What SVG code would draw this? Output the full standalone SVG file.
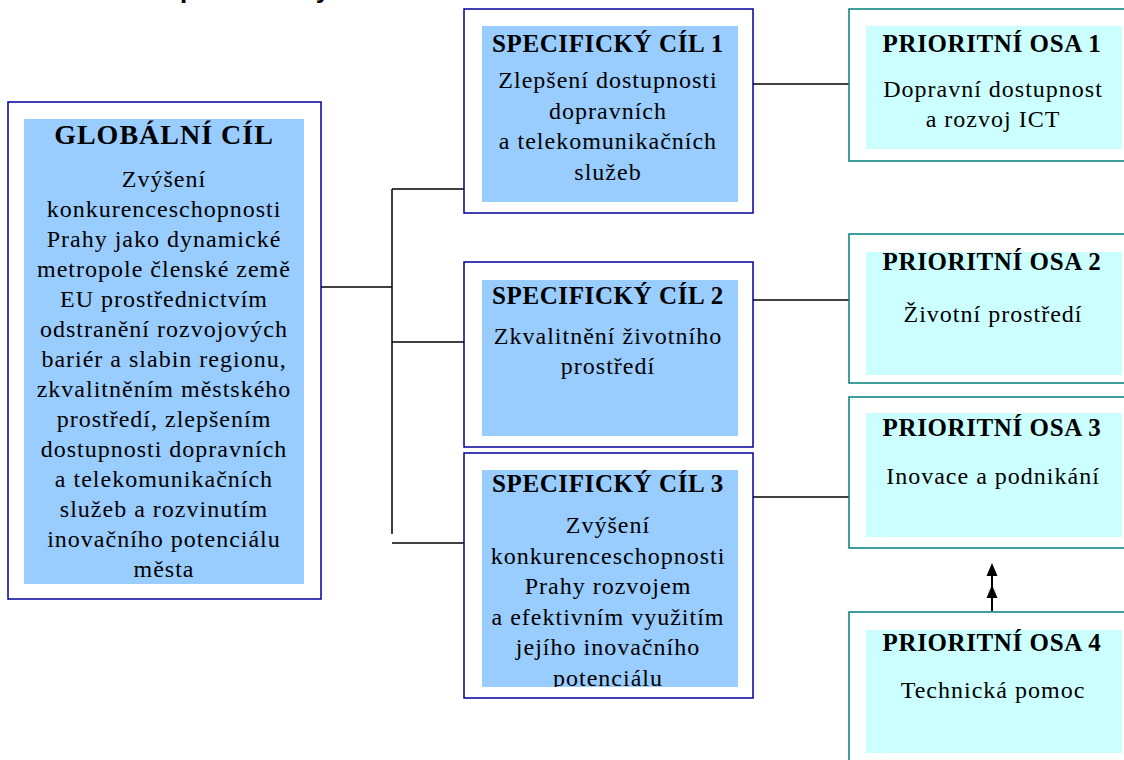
<svg xmlns="http://www.w3.org/2000/svg" width="1124" height="760" viewBox="0 0 1124 760">
<style>
.sbox{fill:#fff;stroke:#000099;stroke-width:1.5}
.sfill{fill:#99ccff}
.obox{fill:#fff;stroke:#008080;stroke-width:1.5}
.ofill{fill:#ccffff}
.t{font-family:"Liberation Serif","Times New Roman",serif;fill:#000;text-anchor:middle}
.h{font-weight:bold;font-size:25px;letter-spacing:0.6px}
.gh{font-weight:bold;font-size:28px;letter-spacing:1px}
.b{font-size:24px;letter-spacing:1px}
.conn{stroke:#000;stroke-width:1.5;fill:none}
.arr{stroke:#000;stroke-width:2;fill:none}
.head{fill:#000}
.top{font-family:"Liberation Sans",Arial,sans-serif;font-weight:bold;font-size:26px;fill:#000}
</style>
<defs>
<clipPath id="c3"><rect x="482" y="470" width="256" height="217"/></clipPath>
</defs>
<rect width="1124" height="760" fill="#fff"/>
<text id="heading" class="top" x="180" y="-2">prioritní osy</text>

<g id="connectors">
<line class="conn" x1="321" y1="287" x2="392" y2="287"/>
<line class="conn" x1="392" y1="189" x2="392" y2="534"/>
<line class="conn" x1="392" y1="189" x2="464" y2="189"/>
<line class="conn" x1="392" y1="342" x2="464" y2="342"/>
<line class="conn" x1="392" y1="543" x2="464" y2="543"/>
<line class="conn" x1="753" y1="84" x2="849" y2="84"/>
<line class="conn" x1="753" y1="300" x2="849" y2="300"/>
<line class="conn" x1="753" y1="497" x2="849" y2="497"/>
<line class="arr" x1="992" y1="611" x2="992" y2="574"/>
<polygon class="head" points="992,563 986.5,576 997.5,576"/>
<polygon class="head" points="992,585 986.5,598 997.5,598"/>
</g>

<g id="global">
<rect class="sbox" x="8" y="102" width="313" height="497"/>
<rect class="sfill" x="24" y="119" width="280" height="465"/>
<text class="t gh" x="164" y="144">GLOBÁLNÍ CÍL</text>
<text class="t b" x="164" y="186.5">Zvýšení</text>
<text class="t b" x="164" y="216.5">konkurenceschopnosti</text>
<text class="t b" x="164" y="246.5">Prahy jako dynamické</text>
<text class="t b" x="164" y="276.5">metropole členské země</text>
<text class="t b" x="164" y="306.5">EU prostřednictvím</text>
<text class="t b" x="164" y="336.5">odstranění rozvojových</text>
<text class="t b" x="164" y="366.5">bariér a slabin regionu,</text>
<text class="t b" x="164" y="396.5">zkvalitněním městského</text>
<text class="t b" x="164" y="426.5">prostředí, zlepšením</text>
<text class="t b" x="164" y="456.5">dostupnosti dopravních</text>
<text class="t b" x="164" y="486.5">a telekomunikačních</text>
<text class="t b" x="164" y="516.5">služeb a rozvinutím</text>
<text class="t b" x="164" y="546.5">inovačního potenciálu</text>
<text class="t b" x="164" y="576.5">města</text>
</g>

<g id="spec1">
<rect class="sbox" x="464" y="9" width="289" height="204"/>
<rect class="sfill" x="482" y="26" width="256" height="176"/>
<text class="t h" x="608" y="52">SPECIFICKÝ CÍL 1</text>
<text class="t b" x="608" y="88">Zlepšení dostupnosti</text>
<text class="t b" x="608" y="118.5">dopravních</text>
<text class="t b" x="608" y="149">a telekomunikačních</text>
<text class="t b" x="608" y="179.5">služeb</text>
</g>

<g id="spec2">
<rect class="sbox" x="464" y="262" width="289" height="185"/>
<rect class="sfill" x="482" y="280" width="256" height="156"/>
<text class="t h" x="608" y="304">SPECIFICKÝ CÍL 2</text>
<text class="t b" x="608" y="344">Zkvalitnění životního</text>
<text class="t b" x="608" y="374">prostředí</text>
</g>

<g id="spec3">
<rect class="sbox" x="464" y="453" width="289" height="245"/>
<rect class="sfill" x="482" y="470" width="256" height="217"/>
<g clip-path="url(#c3)">
<text class="t h" x="608" y="492">SPECIFICKÝ CÍL 3</text>
<text class="t b" x="608" y="533">Zvýšení</text>
<text class="t b" x="608" y="563.5">konkurenceschopnosti</text>
<text class="t b" x="608" y="594">Prahy rozvojem</text>
<text class="t b" x="608" y="624.5">a efektivním využitím</text>
<text class="t b" x="608" y="655">jejího inovačního</text>
<text class="t b" x="608" y="685.5">potenciálu</text>
</g>
</g>

<g id="osa1">
<rect class="obox" x="849" y="9" width="290" height="152"/>
<rect class="ofill" x="866" y="26" width="256" height="123"/>
<text class="t h" x="992" y="52">PRIORITNÍ OSA 1</text>
<text class="t b" x="993" y="97">Dopravní dostupnost</text>
<text class="t b" x="993" y="127">a rozvoj ICT</text>
</g>

<g id="osa2">
<rect class="obox" x="849" y="234" width="290" height="149"/>
<rect class="ofill" x="866" y="252" width="256" height="123"/>
<text class="t h" x="992" y="270">PRIORITNÍ OSA 2</text>
<text class="t b" x="993" y="322">Životní prostředí</text>
</g>

<g id="osa3">
<rect class="obox" x="849" y="397" width="290" height="151"/>
<rect class="ofill" x="866" y="413" width="256" height="124"/>
<text class="t h" x="992" y="436">PRIORITNÍ OSA 3</text>
<text class="t b" x="993" y="484">Inovace a podnikání</text>
</g>

<g id="osa4">
<rect class="obox" x="849" y="612" width="290" height="160"/>
<rect class="ofill" x="866" y="630" width="256" height="123"/>
<text class="t h" x="992" y="651">PRIORITNÍ OSA 4</text>
<text class="t b" x="993" y="698">Technická pomoc</text>
</g>
</svg>
